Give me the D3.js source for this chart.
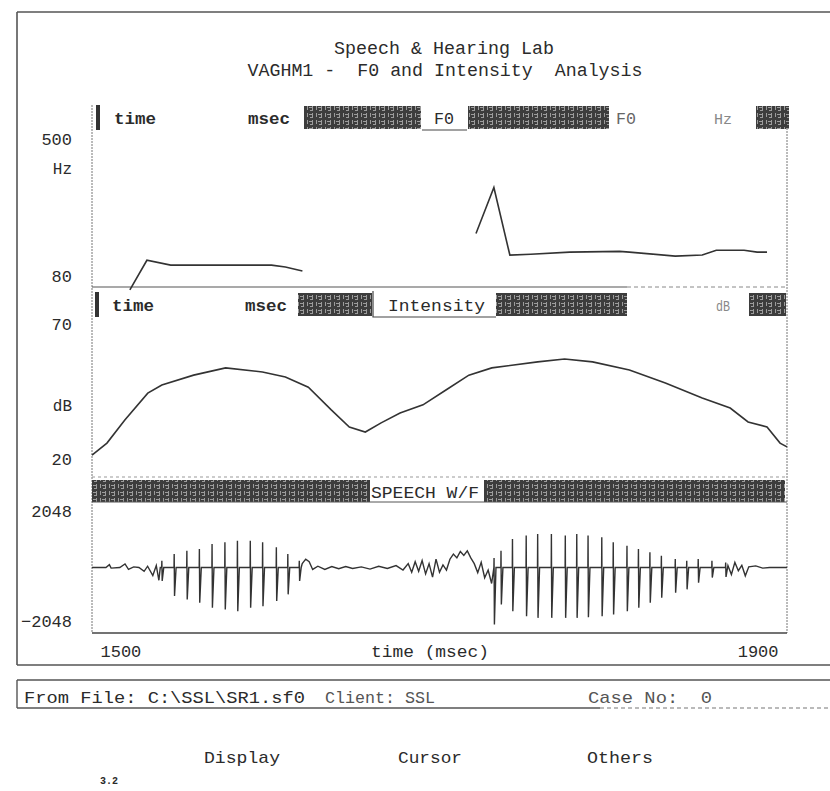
<!DOCTYPE html>
<html><head><meta charset="utf-8">
<script src="https://cdn.jsdelivr.net/npm/d3@7"></script>
<style>
body{margin:0;background:#fff;}
text{font-family:"Liberation Mono","DejaVu Sans Mono",monospace;fill:#2b2b2b;white-space:pre;}
</style></head><body>
<svg id="c" width="830" height="791"></svg>
<script>
// ---------------- data ----------------
const titleLines = ["Speech & Hearing Lab", "VAGHM1 -  F0 and Intensity  Analysis"];
const timeDomain = [1500, 1900];
const timeTicks = [1500, 1900];
const timeLabel = "time (msec)";
const f0Domain = [80, 500];
const f0Ticks = [500, 80];
const dbDomain = [20, 70];
const dbTicks = [70, 20];
const ampDomain = [-2048, 2048];
const ampTicks = [2048, -2048];
const unitLabels = ["Hz", "dB"];
const panelHeaders = ["F0", "Intensity", "SPEECH W/F"];
// F0 contour (ms, Hz) – two voiced segments
const f0Segment1 = [[1521.8,72],[1531.6,152],[1545.3,139],[1571.7,139],[1603.3,139],[1611.3,134],[1621.1,123]];
const f0Segment2 = [[1721.0,224],[1731.3,348],[1740.5,166],[1752.5,168],[1774.9,174],[1803.6,176],[1809.3,174],
  [1835.7,163],[1851.2,166],[1859.3,179],[1875.3,179],[1882.8,174],[1888.5,174]];
// Intensity contour (ms, dB)
const intensity = [[1500,26.3],[1508.6,30.1],[1518.9,37.4],[1532.1,45.9],[1540.2,48.5],[1558.5,51.6],[1576.9,53.9],
  [1598.1,52.6],[1611.3,51.0],[1624.5,47.8],[1637.7,40.6],[1648.1,35.2],[1657.3,33.6],[1666.4,36.5],[1677.3,39.6],
  [1690.5,42.2],[1703.7,46.9],[1716.9,51.6],[1730.1,53.9],[1756.5,55.8],[1772.0,56.7],[1788.1,55.8],[1809.3,53.2],
  [1830.0,49.1],[1851.2,44.4],[1867.3,41.2],[1877.6,36.8],[1888.5,35.2],[1896.0,30.1],[1900,28.9]];
// Speech waveform: unvoiced/noise stretches (ms, amplitude)
const speechPre = [[1500,0],[1508,0],[1510,90],[1511,-20],[1516,0],[1519,110],[1521,-60],[1524,20],[1527,0],
  [1530,-120],[1532,40],[1535,-250],[1537,60],[1538.5,-400],[1539.3,0]];
const speechMid = [[1621,120],[1623,260],[1625,180],[1627,-60],[1630,40],[1634,-60],[1638,30],[1642,-40],[1646,30],
  [1650,-30],[1655,20],[1660,-50],[1665,40],[1670,-30],[1675,60],[1679,-80],[1682,120],[1684,-150],[1686,180],
  [1688,-120],[1690,220],[1692,-200],[1694,120],[1696,-300],[1698,260],[1700,-150],[1702,80],[1704,-80],[1706,260],
  [1708,420],[1710,300],[1712,500],[1714,380],[1716,520],[1718,300],[1720,120],[1722,-160],[1724,160],[1726,-320],
  [1728,-80],[1730,-500]];
const speechPost = [[1866,60],[1868,-220],[1870,160],[1872,-100],[1874,70],[1876,-260],[1878,20],[1882,50],
  [1886,-20],[1890,0],[1900,0]];
// Speech waveform: glottal pulses (ms, peak, trough)
const vowel1Pulses = [[1540.1,210,-420],[1547.2,420,-893],[1554.5,525,-998],[1561.7,578,-1103],[1569.0,735,-1260],
  [1576.4,788,-1313],[1583.6,840,-1365],[1591.0,840,-1260],[1598.1,788,-1208],[1606.0,630,-1050],[1612.6,420,-840],
  [1619.2,210,-420]];
const vowel2Pulses = [[1731.3,300,-1785],[1735.3,525,-1155],[1741.9,893,-1365],[1749.8,998,-1523],[1756.4,1050,-1575],
  [1764.3,1050,-1575],[1772.3,998,-1575],[1778.9,1050,-1575],[1785.4,998,-1554],[1793.3,945,-1523],[1799.9,788,-1470],
  [1807.8,683,-1365],[1814.4,578,-1260],[1821.0,473,-1103],[1827.6,368,-945],[1835.6,263,-788],[1842.2,210,-683],
  [1848.8,263,-473],[1856.7,210,-315],[1864.6,158,-294]];
const footerItems = ["From File: C:\\SSL\\SR1.sf0", "Client: SSL", "Case No:  0"];
const menuItems = ["Display", "Cursor", "Others"];
const figNote = "3.2";

// ---------------- drawing ----------------
const svg = d3.select("#c");
svg.append("rect").attr("width",830).attr("height",791).attr("fill","#fff");
const defs = svg.append("defs");
const pat = defs.append("pattern").attr("id","dith").attr("width",9).attr("height",7).attr("patternUnits","userSpaceOnUse");
pat.append("rect").attr("width",9).attr("height",7).attr("fill","#3d3d3d");
pat.append("path").attr("d","M1.5,1v4M3,2.5h3M6.5,1v5M4,5.5h2").attr("stroke","#9c9c9c").attr("stroke-width",1);

const ink = "#333";
const x = d3.scaleLinear().domain(timeDomain).range([92,787]);
const yF0 = d3.scaleLinear().domain(f0Domain).range([287,131]);
const yDb = d3.scaleLinear().domain(dbDomain).range([475,317]);
const yAmp = d3.scaleLinear().domain(ampDomain).range([633,502]);

function line(x1,y1,x2,y2,opts={}){
  svg.append("line").attr("x1",x1).attr("y1",y1).attr("x2",x2).attr("y2",y2)
    .attr("stroke",opts.c||"#444").attr("stroke-width",opts.w||1.2)
    .attr("stroke-dasharray",opts.d||null);
}
function txt(s,x0,y0,opts={}){
  const t = svg.append("text").attr("x",x0).attr("y",y0).attr("xml:space","preserve").text(s)
    .attr("font-size",opts.size||17).attr("text-anchor",opts.anchor||"start")
    .attr("font-weight",opts.bold?"bold":"normal");
  if(opts.len) t.attr("textLength",opts.len).attr("lengthAdjust","spacingAndGlyphs");
  if(opts.fill) t.style("fill",opts.fill);
  return t;
}
function darkBox(x0,x1,y0,y1){
  svg.append("rect").attr("x",x0).attr("y",y0).attr("width",x1-x0).attr("height",y1-y0).attr("fill","url(#dith)");
}

// outer frame
line(17,12,830,12,{w:1.6,c:"#555"});
line(17,12,17,665,{w:1.6,c:"#555"});
line(17,665,830,665,{w:1.6,c:"#555"});

// title
txt(titleLines[0],444,54,{anchor:"middle",size:18,len:220});
txt(titleLines[1],445,76,{anchor:"middle",size:18,len:395});

// plot frame
line(92,105,92,633,{w:1,c:"#777",d:"2,1"});
line(787,128,787,633,{w:1,c:"#777",d:"2,1"});
line(92,287,627,287,{w:1.2,c:"#555"});
line(627,287,787,287,{w:1,c:"#888",d:"4,3"});
line(92,477,787,477,{w:1,c:"#999",d:"3,3"});
line(92,633,787,633,{w:1.5,c:"#444"});

// header 1 (F0)
svg.append("rect").attr("x",96).attr("y",105).attr("width",4).attr("height",25).attr("fill","#333");
txt("time",114,124,{bold:true,len:42});
txt("msec",248,124,{bold:true,len:42});
darkBox(304,421,106,129);
txt(panelHeaders[0],434,124,{len:20});
line(422,130,467,130,{w:1});
darkBox(468,609,106,129);
txt(panelHeaders[0],616,124,{len:20,fill:"#666"});
txt(unitLabels[0],714,124,{len:18,fill:"#888",size:15});
darkBox(756,789,106,129);

// header 2 (Intensity)
svg.append("rect").attr("x",95).attr("y",292).attr("width",4).attr("height",25).attr("fill","#333");
txt("time",112,311,{bold:true,len:42});
txt("msec",245,311,{bold:true,len:42});
darkBox(298,372,293,316);
svg.append("path").attr("d","M373,291V317H496").attr("fill","none").attr("stroke","#444").attr("stroke-width",1.2);
txt(panelHeaders[1],388,311,{len:97});
darkBox(496,627,293,316);
txt(unitLabels[1],716,311,{len:14,fill:"#888",size:14});
darkBox(749,786,293,316);

// header 3 (speech)
darkBox(92,370,480,502);
txt(panelHeaders[2],371,498,{len:108});
darkBox(484,785,480,502);
line(92,502,787,502,{w:1,c:"#555"});

// left axes
function leftAxis(scale,ticks,offs){
  const g = svg.append("g").attr("transform","translate(72,0)")
    .call(d3.axisLeft(scale).tickValues(ticks).tickSize(0).tickPadding(0).tickFormat(d3.format("d")));
  g.select(".domain").remove();
  g.selectAll(".tick text").attr("font-family","Liberation Mono, monospace").attr("font-size",17)
    .attr("fill","#333").attr("dy",(d,i)=>(offs[i]+6)+"px");
  return g;
}
leftAxis(yF0,f0Ticks,[7,-12]);
leftAxis(yDb,dbTicks,[6,-17]);
leftAxis(yAmp,ampTicks,[8,-13]);
txt(unitLabels[0],72,174,{anchor:"end",size:16});
txt(unitLabels[1],72,411,{anchor:"end",size:16});

// bottom axis
const gx = svg.append("g").attr("transform","translate(0,640)")
  .call(d3.axisBottom(x).tickValues(timeTicks).tickSize(0).tickPadding(0).tickFormat(d3.format("d")));
gx.select(".domain").remove();
gx.selectAll(".tick text").attr("font-family","Liberation Mono, monospace").attr("font-size",17).attr("fill","#333")
  .attr("text-anchor",(d,i)=>i===0?"start":"end").attr("dx",(d,i)=>i===0?"8px":"-9px").attr("dy","17px");
txt(timeLabel,430,657,{anchor:"middle",len:118});

// curves
const lf = d3.line().x(d=>x(d[0])).y(d=>yF0(d[1]));
[f0Segment1,f0Segment2].forEach(s=>svg.append("path").attr("d",lf(s)).attr("fill","none").attr("stroke",ink).attr("stroke-width",1.6));
const li = d3.line().x(d=>x(d[0])).y(d=>yDb(d[1]));
svg.append("path").attr("d",li(intensity)).attr("fill","none").attr("stroke",ink).attr("stroke-width",1.6);

function pulsePoints(p){
  const out=[];
  p.forEach(([t,hi,lo])=>{ out.push([t,0]); out.push([t+0.1,hi]); out.push([t+0.3,lo]); out.push([t+1.2,0]); });
  return out;
}
const wave = [...speechPre, ...pulsePoints(vowel1Pulses), ...speechMid, ...pulsePoints(vowel2Pulses), ...speechPost];
const lw = d3.line().x(d=>x(d[0])).y(d=>yAmp(d[1]));
svg.append("path").attr("d",lw(wave)).attr("fill","none").attr("stroke",ink).attr("stroke-width",1.4);

// footer
line(17,680,830,680,{w:1.4,c:"#555"});
line(17,680,17,708,{w:1.4,c:"#555"});
line(17,708,600,708,{w:1.4,c:"#555"});
line(600,708,830,708,{w:1.2,c:"#777",d:"4,3"});
txt(footerItems[0],24,703,{size:17,len:281});
txt(footerItems[1],325,703,{size:17,len:110,fill:"#555"});
txt(footerItems[2],588,703,{size:17,len:124,fill:"#555"});
txt(menuItems[0],204,763,{size:17,len:76});
txt(menuItems[1],398,763,{size:17,len:64});
txt(menuItems[2],587,763,{size:17,len:66});
txt(figNote,100,784,{size:10,bold:true});
</script></body></html>
